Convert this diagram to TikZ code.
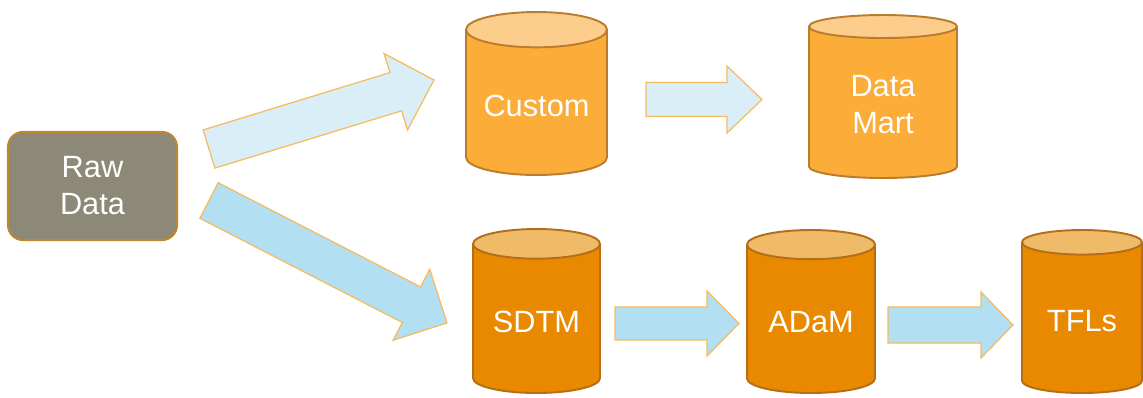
\documentclass[tikz,border=0pt]{standalone}
\usepackage{fontspec}
\setmainfont{Liberation Sans}
\usepackage{tikz}
\usetikzlibrary{shapes.geometric,calc,positioning}
\usepackage{xcolor}
\definecolor{rawfill}{RGB}{140,137,120}
\definecolor{rawedge}{RGB}{190,135,50}
\definecolor{lightbody}{RGB}{252,172,56}
\definecolor{lighttop}{RGB}{253,205,140}
\definecolor{lightedge}{RGB}{185,125,45}
\definecolor{darkbody}{RGB}{232,137,0}
\definecolor{darktop}{RGB}{240,187,104}
\definecolor{darkedge}{RGB}{180,110,25}
\definecolor{pale}{RGB}{218,238,248}
\definecolor{sky}{RGB}{178,223,242}
\definecolor{arrowedge}{RGB}{246,187,92}
\tikzstyle{rawbox} = [rectangle,rounded corners=0.3cm,fill=rawfill,draw=rawedge,line width=1.2pt,
  minimum width=3.38cm,minimum height=2.16cm,text=white,align=center,font=\fontsize{17.5}{21}\selectfont]
\tikzstyle{db} = [cylinder,shape border rotate=90,aspect=0.3,cylinder uses custom fill,line width=1.1pt,
  anchor=shape center,text=white,align=center,font=\fontsize{17.5}{21}\selectfont]
\tikzstyle{dblight} = [db,draw=lightedge,cylinder body fill=lightbody,cylinder end fill=lighttop]
\tikzstyle{dbdark} = [db,draw=darkedge,cylinder body fill=darkbody,cylinder end fill=darktop]
\tikzstyle{flowpale} = [fill=pale,draw=arrowedge,line width=0.7pt,line join=miter]
\tikzstyle{flowsky} = [fill=sky,draw=arrowedge,line width=0.7pt,line join=miter]
% block arrow: style, from, to, shaft half width, head half width, head length
\newcommand{\blockarrow}[6]{%
  \coordinate (neck) at ($(#3)!#6!(#2)$);
  \draw[#1] ($(#2)!#4!90:(#3)$) -- ($(neck)!#4!-90:(#2)$) -- ($(neck)!#5!-90:(#2)$)
    -- (#3) -- ($(neck)!#5!90:(#2)$) -- ($(neck)!#4!90:(#2)$) -- ($(#2)!#4!-90:(#3)$) -- cycle;
}

\begin{document}
\begin{tikzpicture}[x=0.02cm,y=-0.02cm]
\path[use as bounding box,fill=white] (0,0) rectangle (1143,397);

% sources and targets
\node[rawbox] (raw) at (92.5,186) {Raw\\Data};
\node[dblight,minimum width=2.82cm,minimum height=3.26cm] (custom) at (536.5,93.5) {Custom};
\node[dblight,minimum width=2.96cm,minimum height=3.26cm] (mart) at (883,96.5) {Data\\Mart};
\node[dbdark,minimum width=2.54cm,minimum height=3.28cm] (sdtm) at (536.5,311) {SDTM};
\node[dbdark,minimum width=2.56cm,minimum height=3.26cm] (adam) at (811,311.5) {ADaM};
\node[dbdark,minimum width=2.4cm,minimum height=3.26cm] (tfls) at (1082,311.5) {TFLs};

% arrow ends
\coordinate (upfrom) at (209,149);
\coordinate (upto) at (434,80);
\coordinate (downfrom) at (209,200.5);
\coordinate (downto) at (447,323);
\coordinate (martfrom) at (646,99.5);
\coordinate (martto) at (762,99.5);
\coordinate (adamfrom) at (615,323.5);
\coordinate (adamto) at (739,323.5);
\coordinate (tflfrom) at (888,325);
\coordinate (tflto) at (1013,325);

\blockarrow{flowpale}{upfrom}{upto}{0.4cm}{0.8cm}{0.8cm}
\blockarrow{flowsky}{downfrom}{downto}{0.4cm}{0.8cm}{0.8cm}
\blockarrow{flowpale}{martfrom}{martto}{0.34cm}{0.67cm}{0.7cm}
\blockarrow{flowsky}{adamfrom}{adamto}{0.33cm}{0.65cm}{0.64cm}
\blockarrow{flowsky}{tflfrom}{tflto}{0.36cm}{0.66cm}{0.64cm}
\end{tikzpicture}
\end{document}
